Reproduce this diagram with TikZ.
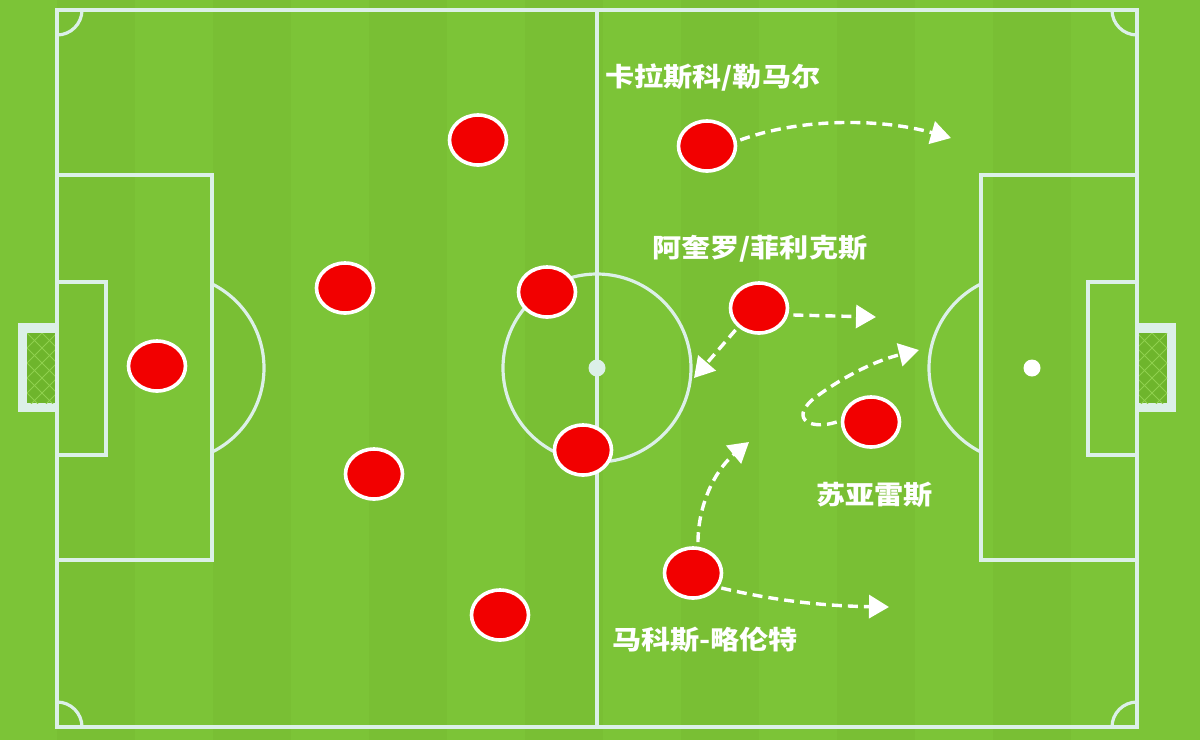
\documentclass[tikz,border=0pt]{standalone}
\usepackage{fontspec}
\newfontfamily\cjk{Noto Sans CJK SC}
\usetikzlibrary{shapes.geometric,arrows.meta}
\definecolor{grass}{HTML}{7CC437}
\definecolor{grassdk}{HTML}{77BD33}
\definecolor{pline}{HTML}{DCF0E8}
\definecolor{netgreen}{HTML}{6EB52C}
\definecolor{netline}{HTML}{8FD04E}
\definecolor{pred}{HTML}{F20000}
\tikzset{
  player/.style={ellipse,fill=pred,draw=white,line width=3.6pt,minimum width=57pt,minimum height=50pt,inner sep=0pt},
  pitchline/.style={draw=pline,line width=3.2pt},
  run/.style={draw=white,line width=3.4pt,dash pattern=on 10pt off 6pt,-{Triangle[length=20pt,width=23pt]}},
  lbl/.style={text=white,inner sep=0pt,anchor=west,font=\cjk\bfseries\fontsize{26}{26}\selectfont}
}
\newcommand{\wlbl}[1]{\scalebox{1.12}[1]{#1}}
\begin{document}
\begin{tikzpicture}[x=1pt,y=-1pt]
\useasboundingbox (0,0) rectangle (1200,740);
\fill[grass] (0,0) rectangle (1200,740);
% subtle stripes
\foreach \s in {57,213,369,525,681,837,993}{
  \fill[grassdk,opacity=0.6] (\s,0) rectangle ++(78,740);
}
% goals
\fill[pline] (18,323) rectangle (57,412);
\fill[netgreen] (27,333) rectangle (57,403);
\begin{scope}
\clip (27,333) rectangle (57,403);
\foreach \k in {-60,-45,...,120}{
  \draw[netline,line width=1pt] (27,333+\k) -- ++(80,80);
  \draw[netline,line width=1pt] (57,333+\k) -- ++(-80,80);
}
\end{scope}
\fill[pline] (1137,323) rectangle (1176,412);
\fill[netgreen] (1137,333) rectangle (1167,403);
\begin{scope}
\clip (1137,333) rectangle (1167,403);
\foreach \k in {-60,-45,...,120}{
  \draw[netline,line width=1pt] (1137,333+\k) -- ++(80,80);
  \draw[netline,line width=1pt] (1167,333+\k) -- ++(-80,80);
}
\end{scope}
% pitch outline
\draw[pitchline] (57,10) rectangle (1137,727);
\draw[pitchline] (597,10) -- (597,727);
\draw[pitchline] (597,368) circle[radius=94];
\fill[pline] (597,368) circle[radius=8.5];
% penalty boxes
\draw[pitchline] (57,175) rectangle (212,560);
\draw[pitchline] (57,282) rectangle (106,455);
\draw[pitchline] (1137,175) rectangle (981,560);
\draw[pitchline] (1137,282) rectangle (1088,455);
\fill[white] (1032,368) circle[radius=8.5];
\begin{scope}
\clip (212,0) rectangle (400,740);
\draw[pitchline] (170,368) circle[radius=94];
\end{scope}
\begin{scope}
\clip (800,0) rectangle (981,740);
\draw[pitchline] (1023,368) circle[radius=94];
\end{scope}
% corner arcs
\begin{scope}
\clip (57,10) rectangle (1137,727);
\draw[pitchline] (57,10) circle[radius=25];
\draw[pitchline] (1137,10) circle[radius=25];
\draw[pitchline] (57,727) circle[radius=25];
\draw[pitchline] (1137,727) circle[radius=25];
\end{scope}
% players
\node[player] (p1) at (157,366) {};
\node[player] (p2) at (478,140) {};
\node[player] (p3) at (345,288) {};
\node[player] (p4) at (374,474) {};
\node[player] (p5) at (500,615) {};
\node[player] (p6) at (547,292) {};
\node[player] (p7) at (583,450) {};
\node[player] (p8) at (707,146) {};
\node[player] (p9) at (759,308) {};
\node[player] (p10) at (871,422) {};
\node[player] (p11) at (693,573) {};
% arrow targets
\coordinate (t1) at (951,138);
\coordinate (t2) at (876,317);
\coordinate (t3) at (694,378);
\coordinate (t4) at (919,350);
\coordinate (t5) at (749,442);
\coordinate (t6) at (889,607);
% runs
\draw[run] (p8.east) ++(3,-6) .. controls (800,118) and (880,118) .. (t1);
\draw[run] (p9.east) ++(4,7) -- (t2);
\draw[run] (p9.south west) ++(-2,3) -- (t3);
\draw[run] (p10.west) ++(-4,0) .. controls (812,430) and (790,420) .. (812,400) .. controls (835,382) and (870,362) .. (t4);
\draw[run] (p11.north) ++(5,-4) .. controls (698,505) and (715,470) .. (t5);
\draw[run] (p11.east) ++(-2,15) .. controls (780,602) and (830,606) .. (t6);
% labels
\node[lbl] (l1) at (605,78) {\wlbl{卡拉斯科/勒马尔}};
\node[lbl] (l2) at (652,249) {\wlbl{阿奎罗/菲利克斯}};
\node[lbl] (l3) at (816,495) {\wlbl{苏亚雷斯}};
\node[lbl] (l4) at (612,640) {\wlbl{马科斯-略伦特}};
\end{tikzpicture}
\end{document}
